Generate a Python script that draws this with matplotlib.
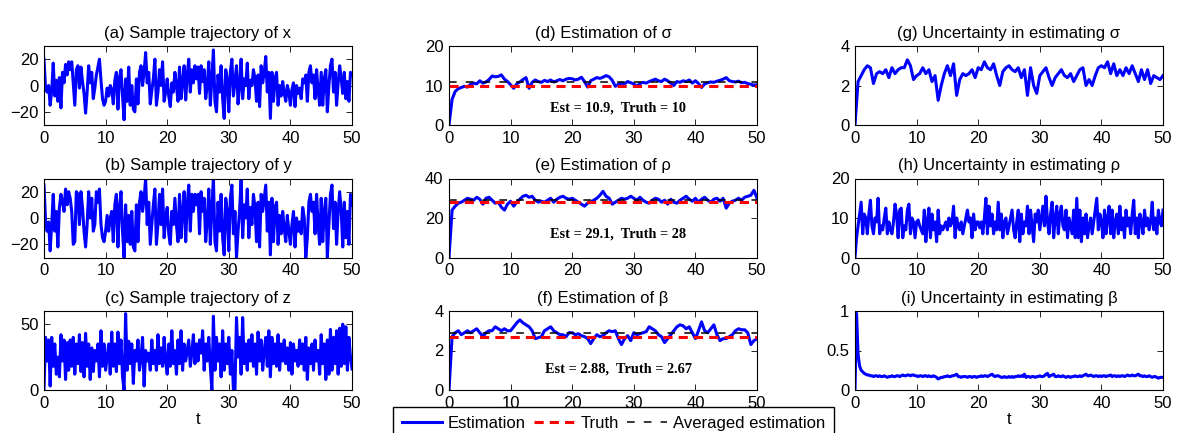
import numpy as np
import matplotlib.pyplot as plt
from matplotlib.lines import Line2D

plt.rcParams['font.family'] = ['Liberation Sans', 'DejaVu Sans']

# time grids: 0.25 for the fast signals, 0.5 for the slow ones
t_fine = np.arange(201) * 0.25
t_coarse = np.arange(101) * 0.5

traj_x = [
    20, -2, -5, 0, -15, -4, 17, -8, 4, -12, 6, -17, 10, 2, 16, 8, 18, 12, 18, 2,
    -15, 12, 15, -2, 14, 3, -6, -21, -5, 15, 2, 10, -10, -2, 8, 14, 20, 4, -10, -15,
    -12, -2, -8, 0, -3, -14, 4, 10, -18, 6, 12, -8, -26, 5, -12, 14, -15, 0, -18, -20,
    5, -14, 10, 15, 0, 10, 25, 2, 10, -14, -4, 5, 20, -15, -5, 12, 0, 18, -12, -5,
    5, -8, -16, 2, -5, 10, 0, -12, 14, -10, 3, 15, -11, 8, 20, -5, 12, 2, 15, 5,
    14, -6, 15, 3, 12, -10, 0, 18, -15, 5, 27, -12, -20, 8, -5, 15, -10, -25, 12, 5,
    -20, 10, 20, -8, 3, 15, -14, 0, 20, -10, 5, 0, 17, -10, 4, 0, 12, 5, -12, 8,
    -16, 15, 2, 10, 22, -5, 10, -25, 10, -12, 5, 10, -15, 0, -8, 3, -6, -12, 0, -5,
    -15, -3, 2, -16, 0, -6, -2, -10, 5, 2, 8, -12, 10, 15, 2, 8, -10, 12, -4, -15,
    10, -15, 5, 12, -20, 0, 15, 20, -5, 10, -15, 2, 15, 5, -6, 10, -10, 3, -12, 10,
    8,
]
traj_y = [
    25, -2, -10, -3, -25, -5, 18, -10, 5, -22, 8, 18, 12, 5, 22, 10, 20, 15, 5, -20,
    -18, 20, 18, -5, 20, 8, -10, -22, -5, 20, 0, 15, -10, -5, 20, 12, 22, -5, -15, -18,
    -10, 2, -10, 0, 5, -18, 10, 18, -22, 8, 20, -10, -30, 10, -18, 2, -20, 5, -22, -25,
    10, -18, 12, 20, 5, 15, 30, -5, 12, -20, -5, 10, 22, -20, -5, 18, -5, 22, -15, 0,
    8, -12, -20, 5, -5, 15, -5, -18, 18, -15, 5, 20, -18, 10, 25, -10, 18, 5, 18, 10,
    18, -12, 20, 5, 15, -18, -2, 22, -20, 8, 30, -18, -25, 12, -10, 18, -15, -28, 15, 5,
    -25, 15, 25, -12, 5, -30, -10, 5, 30, -15, 10, 0, 22, -15, 8, -5, 18, 8, -18, 12,
    -22, 18, 5, 15, 25, -10, 12, -28, 15, -18, 8, 12, -20, 2, -12, 5, -8, -18, 2, -10,
    -20, -5, 5, -22, 0, -10, -3, -12, 8, 0, -30, -15, 12, 18, 5, 12, -12, 18, -5, -20,
    15, -18, 5, 15, -30, -5, 18, 25, -8, 12, -20, 5, 20, 5, -22, 12, -15, 5, -20, 18,
    10,
]
traj_z = [
    0, 40, 22, 38, 3, 40, 18, 35, 12, 25, 10, 42, 22, 38, 8, 36, 15, 38, 18, 40,
    12, 35, 20, 42, 14, 36, 10, 43, 18, 35, 8, 32, 14, 30, 22, 35, 10, 45, 18, 35,
    15, 25, 35, 12, 44, 18, 35, 14, 44, 20, 38, 10, 0, 58, 15, 37, 20, 35, 5, 30,
    22, 38, 15, 25, 40, 3, 30, 22, 28, 15, 38, 20, 30, 15, 42, 20, 32, 18, 40, 22,
    12, 35, 18, 45, 20, 30, 12, 38, 20, 45, 15, 35, 22, 30, 38, 18, 28, 42, 20, 35,
    22, 38, 28, 45, 15, 35, 22, 40, 18, 0, 56, 15, 40, 22, 35, 10, 45, 15, 35, 20,
    40, 12, 30, 0, 0, 55, 25, 40, 12, 55, 20, 35, 15, 38, 22, 42, 18, 35, 12, 44,
    22, 38, 15, 30, 40, 18, 45, 10, 40, 20, 35, 18, 42, 15, 35, 22, 38, 20, 32, 15,
    36, 12, 35, 22, 30, 18, 38, 20, 35, 15, 40, 8, 32, 20, 35, 15, 38, 22, 30, 12,
    42, 20, 35, 8, 38, 12, 46, 15, 40, 20, 45, 12, 47, 18, 50, 20, 48, 15, 40, 25,
    16,
]

est_sigma = [
    0, 6.5, 8.5, 9.2, 9.5, 9.8, 9.6, 10.3, 10.6, 10.4, 11.2, 10.6, 10.9, 11.5, 12.4, 12.2,
    12.3, 12.7, 11.6, 11.0, 10.2, 9.3, 10.4, 10.9, 11.5, 12.0, 9.3, 10.8, 11.4, 11.0,
    10.8, 11.3, 11.0, 11.4, 10.9, 11.2, 11.5, 11.2, 11.6, 11.8, 11.7, 11.4, 11.6, 12.1,
    11.0, 9.6, 11.2, 11.6, 12.0, 11.8, 12.1, 12.5, 12.2, 11.3, 9.8, 10.3, 10.6, 10.4,
    11.0, 10.7, 10.4, 9.8, 10.5, 10.8, 10.6, 11.0, 11.3, 11.6, 11.2, 11.0, 11.6, 11.2,
    10.6, 10.0, 11.0, 10.8, 11.2, 11.0, 11.4, 10.6, 11.2, 10.5, 9.5, 10.4, 10.7, 10.9,
    10.8, 11.1, 11.3, 11.6, 12.0, 11.2, 11.0, 10.9, 11.1, 10.7, 10.8, 10.5, 10.3, 10.1,
    10.2,
]
est_rho = [
    0, 24, 26, 27.5, 28, 29, 30, 29.5, 29, 30.5, 29.5, 27, 30, 30.5, 29, 27.5, 28, 25.5,
    24, 27, 28.5, 26, 28, 29.5, 31, 31.5, 30.5, 31, 29, 28, 28.5, 28, 29, 30, 28, 29.5,
    30.5, 31, 30, 29.5, 30, 29, 28, 27, 26, 27.5, 28, 29, 30, 31.5, 33.5, 31, 30, 27,
    28, 29, 30, 29.5, 30, 31, 30, 29, 30.5, 29, 28, 27.5, 29, 30, 29.5, 28, 29, 27,
    29.5, 28, 27.5, 29, 30, 31, 29.5, 28.5, 30, 28, 29.5, 30.5, 29, 28, 29.5, 30,
    28.5, 30, 25, 27.5, 28.5, 29, 30, 29, 30.5, 31, 31.5, 34, 30,
]
est_beta = [
    0, 2.7, 2.9, 3.0, 2.8, 2.9, 3.0, 2.9, 3.0, 3.1, 2.9, 2.7, 2.9, 3.0, 3.0, 3.2,
    3.1, 3.0, 3.1, 3.0, 3.0, 3.2, 3.4, 3.55, 3.4, 3.3, 3.2, 3.0, 2.6, 2.65, 2.7, 3.0,
    3.1, 3.2, 3.0, 2.9, 2.8, 2.8, 2.7, 2.9, 2.9, 2.8, 2.85, 2.75, 2.7, 2.6, 2.35, 2.6,
    2.8, 2.7, 2.75, 2.9, 3.0, 2.95, 3.0, 2.6, 2.3, 2.6, 2.75, 2.5, 2.9, 2.8, 2.85, 2.9,
    2.95, 3.2, 3.1, 3.0, 2.8, 2.7, 2.4, 2.6, 2.8, 3.0, 3.2, 3.3, 3.25, 3.1, 3.2, 2.9,
    2.6, 3.0, 3.45, 3.0, 2.9, 3.1, 3.3, 2.8, 2.5, 2.6, 2.6, 2.7, 2.8, 3.0, 3.1, 3.05,
    3.05, 2.9, 2.3, 2.5, 2.6,
]

unc_sigma = [
    0, 2.2, 2.5, 2.8, 3.0, 2.9, 2.1, 2.6, 2.7, 2.6, 2.8, 2.4, 2.9, 2.6, 2.8, 2.9,
    2.9, 3.3, 3.0, 2.3, 2.5, 2.6, 2.9, 2.6, 2.8, 2.2, 2.5, 1.25, 2.0, 2.6, 3.0, 2.5,
    3.1, 1.5, 2.3, 2.6, 2.5, 2.6, 2.8, 2.4, 2.9, 2.8, 3.2, 2.9, 2.8, 3.1, 2.5, 2.0,
    2.7, 2.9, 3.0, 2.8, 2.7, 2.9, 2.4, 2.8, 1.5, 2.9, 2.0, 1.6, 2.5, 2.7, 2.9, 2.4,
    2.0, 2.4, 2.6, 2.8, 2.5, 2.4, 2.6, 2.2, 2.5, 2.8, 2.9, 2.0, 2.3, 2.0, 2.5, 2.9,
    3.0, 2.9, 3.2, 2.6, 3.1, 2.5, 2.8, 2.5, 2.9, 2.6, 3.0, 2.6, 2.2, 2.8, 2.3, 2.8,
    2.1, 2.5, 2.4, 2.3, 2.5,
]
unc_rho = [
    0, 5, 8, 11, 14, 6, 11, 10, 6, 11, 14.5, 8, 6, 10, 9, 15, 6, 8, 7, 10,
    12.5, 6, 9, 7, 6, 9, 13.5, 11, 5, 12, 12.5, 5, 8, 7, 12, 13.5, 6, 10, 9, 5,
    9, 9.5, 8, 7, 6, 12, 4, 9, 12.5, 5, 11, 7, 9, 4, 12, 6, 8, 7, 8, 9,
    7, 10, 8, 9, 13, 5, 10, 8, 7, 9, 6, 8, 10, 12, 9, 10, 5, 11, 7, 9,
    9, 7.5, 9, 6, 10, 15, 6, 13, 8, 11, 6, 9, 7, 14, 7, 11, 5, 9, 10, 6,
    8, 10, 12, 7, 5, 9, 12, 4, 11, 6, 9, 8, 13, 6, 12, 8, 4, 11, 9, 12,
    7, 10, 13, 8, 15.5, 9, 6, 11, 14, 5, 10, 13, 6, 11, 13, 8, 7, 12, 5, 10,
    8, 6, 12, 5, 15, 5, 12, 4, 10, 6, 11, 5, 8, 10, 6, 9, 12, 15, 7, 11,
    9, 5, 12, 6, 10, 13, 6, 12, 5, 9, 11, 6, 13, 7, 10, 5, 12, 8, 10, 6,
    11, 14.5, 6, 10, 5, 11, 9, 6, 12, 8, 10, 7, 9, 14, 7, 10, 6, 12, 9, 8,
    12,
]
unc_beta = [
    0, 0.97, 0.45, 0.3, 0.25, 0.23, 0.21, 0.2, 0.19, 0.19, 0.18, 0.18, 0.17, 0.18, 0.18, 0.17,
    0.18, 0.17, 0.17, 0.18, 0.17, 0.16, 0.17, 0.17, 0.18, 0.17, 0.17, 0.18, 0.18, 0.17, 0.18, 0.19,
    0.18, 0.18, 0.19, 0.19, 0.18, 0.19, 0.19, 0.18, 0.18, 0.17, 0.18, 0.18, 0.17, 0.18, 0.18, 0.17,
    0.18, 0.17, 0.17, 0.18, 0.17, 0.16, 0.14, 0.15, 0.16, 0.16, 0.17, 0.17, 0.18, 0.17, 0.17, 0.18,
    0.18, 0.19, 0.2, 0.17, 0.17, 0.16, 0.17, 0.17, 0.17, 0.16, 0.17, 0.17, 0.16, 0.17, 0.17, 0.16,
    0.17, 0.17, 0.18, 0.17, 0.18, 0.18, 0.17, 0.18, 0.19, 0.2, 0.18, 0.17, 0.18, 0.18, 0.17, 0.16,
    0.16, 0.17, 0.16, 0.16, 0.17, 0.16, 0.17, 0.16, 0.17, 0.17, 0.18, 0.17, 0.18, 0.17, 0.2, 0.16,
    0.17, 0.17, 0.16, 0.17, 0.17, 0.16, 0.17, 0.17, 0.18, 0.17, 0.17, 0.18, 0.2, 0.21, 0.17, 0.18,
    0.19, 0.2, 0.17, 0.17, 0.18, 0.17, 0.17, 0.18, 0.17, 0.16, 0.17, 0.17, 0.16, 0.17, 0.17, 0.18,
    0.17, 0.17, 0.18, 0.17, 0.18, 0.19, 0.2, 0.18, 0.18, 0.19, 0.18, 0.17, 0.18, 0.18, 0.17, 0.18,
    0.17, 0.18, 0.18, 0.17, 0.18, 0.18, 0.19, 0.17, 0.18, 0.18, 0.17, 0.18, 0.17, 0.18, 0.18, 0.17,
    0.18, 0.19, 0.18, 0.18, 0.19, 0.18, 0.18, 0.19, 0.2, 0.18, 0.18, 0.17, 0.18, 0.17, 0.17, 0.18,
    0.17, 0.16, 0.17, 0.17, 0.16, 0.15, 0.16, 0.16, 0.16,
]

truth = {'sigma': 10, 'rho': 28, 'beta': 2.67}
averaged = {'sigma': 10.9, 'rho': 29.1, 'beta': 2.88}

BLUE = '#0000ff'
RED = '#ff0000'
TRUTH_STYLE = dict(color=RED, lw=2.2, dashes=(3, 2))
AVG_STYLE = dict(color='black', lw=1.1, dashes=(5, 6))

W, H = 1177, 433
fig = plt.figure(figsize=(W / 100, H / 100), dpi=100)

col_left = [44, 449, 855]
row_bottom = [125, 257.5, 390]
ax_w, ax_h = 308, 79


def make_ax(col, row, ylim, yticks, yticklabels=None):
    ax = fig.add_axes([col_left[col] / W, 1 - row_bottom[row] / H, ax_w / W, ax_h / H])
    ax.set_xlim(0, 50)
    ax.set_xticks(range(0, 51, 10))
    ax.set_ylim(*ylim)
    ax.set_yticks(yticks)
    if yticklabels is not None:
        ax.set_yticklabels(yticklabels)
    ax.tick_params(direction='in', top=True, right=True, labelsize=12,
                   length=4, width=0.6, pad=4)
    for s in ax.spines.values():
        s.set_linewidth(0.8)
    return ax


def title(ax, text):
    ax.set_title(text, fontsize=12, pad=6)


# left column: sample trajectories
ax = make_ax(0, 0, (-30, 30), [-20, 0, 20])
ax.plot(t_fine, traj_x, color=BLUE, lw=2.2)
title(ax, '(a) Sample trajectory of x')

ax = make_ax(0, 1, (-30, 30), [-20, 0, 20])
ax.plot(t_fine, traj_y, color=BLUE, lw=2.2)
title(ax, '(b) Sample trajectory of y')

ax = make_ax(0, 2, (0, 60), [0, 50])
ax.plot(t_fine, traj_z, color=BLUE, lw=2.2)
title(ax, '(c) Sample trajectory of z')
ax.set_xlabel('t', fontsize=12, labelpad=1)

# middle column: parameter estimates
est_panels = [
    ('sigma', est_sigma, (0, 20), [0, 10, 20], '(d) Estimation of σ', 4.3, '10.9', '10'),
    ('rho', est_rho, (0, 40), [0, 20, 40], '(e) Estimation of ρ', 12.1, '29.1', '28'),
    ('beta', est_beta, (0, 4), [0, 2, 4], '(f) Estimation of β', 1.06, '2.88', '2.67'),
]
for row, (key, est, ylim, yt, ttl, ytxt, e_lbl, t_lbl) in enumerate(est_panels):
    ax = make_ax(1, row, ylim, yt)
    ax.plot(t_coarse, est, color=BLUE, lw=2.2)
    ax.plot([0, 50], [truth[key]] * 2, **TRUTH_STYLE)
    ax.plot([0, 50], [averaged[key]] * 2, **AVG_STYLE)
    ax.text(27.5, ytxt, f'Est = {e_lbl},  Truth = {t_lbl}', ha='center', va='center',
            fontsize=10.3, fontweight='bold', family=['Liberation Serif', 'DejaVu Serif'])
    title(ax, ttl)

# right column: uncertainty
ax = make_ax(2, 0, (0, 4), [0, 2, 4])
ax.plot(t_coarse, unc_sigma, color=BLUE, lw=2.2)
title(ax, '(g) Uncertainty in estimating σ')

ax = make_ax(2, 1, (0, 20), [0, 10, 20])
ax.plot(t_fine, unc_rho, color=BLUE, lw=2.2)
title(ax, '(h) Uncertainty in estimating ρ')

ax = make_ax(2, 2, (0, 1), [0, 0.5, 1], ['0', '0.5', '1'])
ax.plot(t_fine, unc_beta, color=BLUE, lw=2.2)
title(ax, '(i) Uncertainty in estimating β')
ax.set_xlabel('t', fontsize=12, labelpad=1)

handles = [
    Line2D([], [], color=BLUE, lw=2.2),
    Line2D([], [], **TRUTH_STYLE),
    Line2D([], [], **AVG_STYLE),
]
leg = fig.legend(handles, ['Estimation', 'Truth', 'Averaged estimation'],
                 loc='upper left', bbox_to_anchor=(393 / W, 1 - 407 / H), ncol=3,
                 fontsize=12, fancybox=False, edgecolor='black', framealpha=1,
                 handlelength=2.4, handletextpad=0.35, columnspacing=0.5,
                 borderpad=0.55, borderaxespad=0)
leg.get_frame().set_linewidth(1.0)

fig.savefig('out.png', dpi=100)
